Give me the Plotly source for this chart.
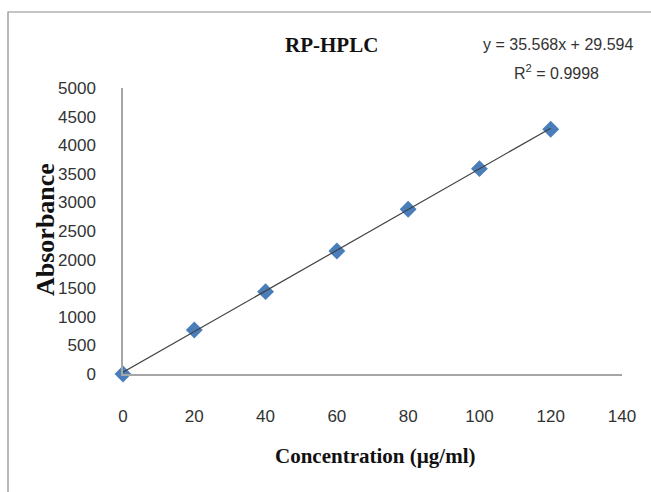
import plotly.graph_objects as go

# Data
concentration = [0, 20, 40, 60, 80, 100, 120]
absorbance = [0, 770, 1440, 2150, 2880, 3590, 4280]
slope = 35.568
intercept = 29.594
r_squared = 0.9998
x_ticks = [0, 20, 40, 60, 80, 100, 120, 140]
y_ticks = [0, 500, 1000, 1500, 2000, 2500, 3000, 3500, 4000, 4500, 5000]

trend_x = [concentration[0], concentration[-1]]
trend_y = [slope * x + intercept for x in trend_x]

W, H = 651, 492
L, R, T, B = 123, 29, 88, 118
pw, ph = W - L - R, H - T - B

def px(x):
    return (x - L) / pw

def py(y):
    return (H - B - y) / ph

tick_font = dict(family="Liberation Sans, Arial", size=17, color="#333333")
eq_font = dict(family="Liberation Sans, Arial", size=16, color="#333333")
serif_bold = dict(family="Liberation Serif, Times New Roman, serif", size=21, color="#111111")
serif_bold_y = dict(family="Liberation Serif, Times New Roman, serif", size=26, color="#111111")

fig = go.Figure()
fig.add_trace(go.Scatter(
    x=concentration, y=absorbance, mode="markers",
    marker=dict(symbol="diamond", size=13, color="#4a7ebb"),
    cliponaxis=False, showlegend=False,
))
fig.add_trace(go.Scatter(
    x=trend_x, y=trend_y, mode="lines",
    line=dict(color="#404040", width=1.2),
    cliponaxis=False, showlegend=False,
))

fig.update_layout(
    width=W, height=H,
    margin=dict(l=L, r=R, t=T, b=B),
    paper_bgcolor="white", plot_bgcolor="white",
    xaxis=dict(range=[0, 140], tickvals=x_ticks, showgrid=False, zeroline=False,
               showline=True, linecolor="#a6a6a6", linewidth=1.5,
               ticks="", tickfont=tick_font, ticklabelstandoff=26),
    yaxis=dict(range=[0, 5000], tickvals=y_ticks, showgrid=False, zeroline=False,
               showline=True, linecolor="#a6a6a6", linewidth=1.5,
               ticks="", tickfont=tick_font, ticklabelstandoff=22),
    shapes=[dict(type="rect", xref="paper", yref="paper",
                 x0=px(8), x1=px(660), y0=py(12), y1=py(500),
                 line=dict(color="#8c8c8c", width=1.2), fillcolor="rgba(0,0,0,0)", layer="below")],
    annotations=[
        dict(text="<b>RP-HPLC</b>", x=px(331), y=py(45), xref="paper", yref="paper",
             showarrow=False, font=serif_bold, xanchor="center", yanchor="middle"),
        dict(text=f"y = {slope}x + {intercept}", x=px(558), y=py(45), xref="paper", yref="paper",
             showarrow=False, font=eq_font, xanchor="center", yanchor="middle"),
        dict(text=f"R<sup>2</sup> = {r_squared}", x=px(556), y=py(72), xref="paper", yref="paper",
             showarrow=False, font=eq_font, xanchor="center", yanchor="middle"),
        dict(text="<b>Absorbance</b>", x=px(45), y=py(230), xref="paper", yref="paper",
             showarrow=False, font=serif_bold_y, textangle=-90, xanchor="center", yanchor="middle"),
        dict(text="<b>Concentration (µg/ml)</b>", x=px(375), y=py(456), xref="paper", yref="paper",
             showarrow=False, font=serif_bold, xanchor="center", yanchor="middle"),
    ],
)

fig.write_html("out.html", config={"displayModeBar": False},
               post_script="document.body.style.margin='0';document.body.style.overflow='hidden';")
